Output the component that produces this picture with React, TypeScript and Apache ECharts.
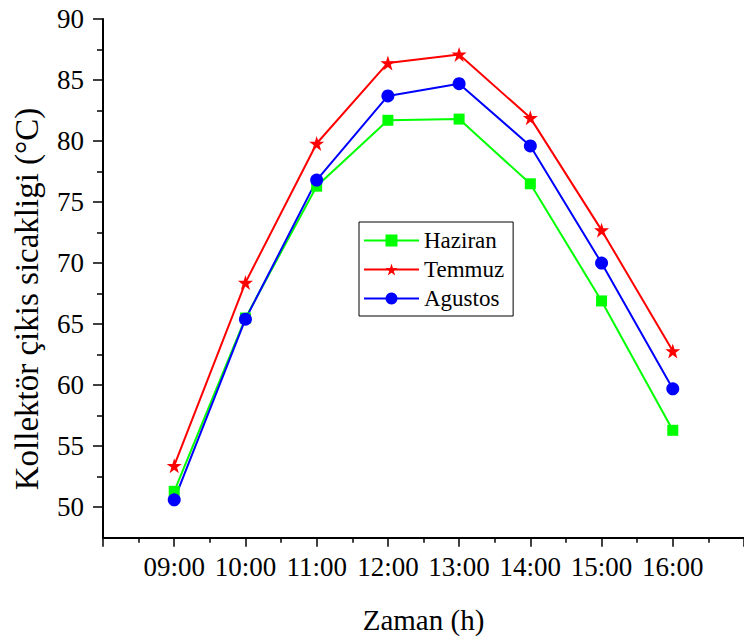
import React, { useEffect, useRef } from 'react';
import * as echarts from 'echarts';

const hours = [9, 10, 11, 12, 13, 14, 15, 16];
const haziran = [51.3, 65.5, 76.3, 81.7, 81.8, 76.5, 66.9, 56.3];
const temmuz = [53.4, 68.4, 79.8, 86.4, 87.1, 81.9, 72.7, 62.8];
const agustos = [50.6, 65.4, 76.8, 83.7, 84.7, 79.6, 70.0, 59.7];

const yMajorTicks = [50, 55, 60, 65, 70, 75, 80, 85, 90];
const yMinorTicks = [52.5, 57.5, 62.5, 67.5, 72.5, 77.5, 82.5, 87.5];
const xMajorTicks = [8, 9, 10, 11, 12, 13, 14, 15, 16, 17];
const xMinorTicks = [8.5, 9.5, 10.5, 11.5, 12.5, 13.5, 14.5, 15.5, 16.5];

const FONT = 'Liberation Serif';
const STAR =
  'path://M50,0L61.23,34.55L97.55,34.55L68.17,55.9L79.39,90.45L50,69.1L20.61,90.45L31.83,55.9L2.45,34.55L38.77,34.55Z';

const pair = (vals: number[]) => hours.map((h, i) => [h, vals[i]]);

export default function App() {
  const ref = useRef<HTMLDivElement>(null);
  useEffect(() => {
    if (!ref.current) return;
    const chart = echarts.init(ref.current, null, { renderer: 'svg' });
    const axisLineStyle = { color: '#000', width: 2 };
    chart.setOption({
      animation: false,
      backgroundColor: '#fff',
      textStyle: { fontFamily: FONT, color: '#000' },
      grid: { left: 103, top: 19, right: -3.5, bottom: 103.3, containLabel: false },
      xAxis: [
        {
          type: 'value',
          min: 8,
          max: 17,
          position: 'bottom',
          splitLine: { show: false },
          axisLine: { show: true, lineStyle: axisLineStyle },
          axisTick: { show: true, customValues: xMajorTicks, length: 9, lineStyle: { color: '#000', width: 1.5 } },
          axisLabel: {
            show: true,
            customValues: hours,
            margin: 16,
            fontSize: 27,
            fontFamily: FONT,
            color: '#000',
            formatter: (v: number) => String(v).padStart(2, '0') + ':00',
          },
          name: 'Zaman (h)',
          nameLocation: 'middle',
          nameGap: 68,
          nameTextStyle: { fontSize: 29, fontFamily: FONT, color: '#000' },
        },
        {
          type: 'value',
          min: 8,
          max: 17,
          position: 'bottom',
          splitLine: { show: false },
          axisLine: { show: false },
          axisTick: { show: true, customValues: xMinorTicks, length: 5, lineStyle: { color: '#000', width: 1.5 } },
          axisLabel: { show: false },
        },
      ],
      yAxis: [
        {
          type: 'value',
          min: 47.5,
          max: 90,
          position: 'left',
          splitLine: { show: false },
          axisLine: { show: true, lineStyle: axisLineStyle },
          axisTick: { show: true, customValues: yMajorTicks, length: 10, lineStyle: { color: '#000', width: 1.5 } },
          axisLabel: {
            show: true,
            customValues: yMajorTicks,
            margin: 19,
            fontSize: 27,
            fontFamily: FONT,
            color: '#000',
          },
        },
        {
          type: 'value',
          min: 47.5,
          max: 90,
          position: 'left',
          splitLine: { show: false },
          axisLine: { show: false },
          axisTick: { show: true, customValues: yMinorTicks, length: 6, lineStyle: { color: '#000', width: 1.5 } },
          axisLabel: { show: false },
        },
      ],
      legend: {
        orient: 'vertical',
        left: 359,
        top: 222,
        padding: [7, 9, 6, 4],
        itemGap: 6,
        itemWidth: 55,
        itemHeight: 15,
        borderColor: '#000',
        borderWidth: 1,
        borderRadius: 0,
        backgroundColor: '#fff',
        textStyle: { fontSize: 23, fontFamily: FONT, color: '#000' },
        data: ['Haziran', 'Temmuz', 'Agustos'],
      },
      graphic: [
        {
          type: 'text',
          x: 27,
          y: 299,
          rotation: Math.PI / 2,
          style: {
            text: 'Kollektör çikis sicakligi (°C)',
            font: `33px ${FONT}`,
            fill: '#000',
            align: 'center',
            verticalAlign: 'middle',
          },
        },
      ],
      series: [
        {
          name: 'Haziran',
          type: 'line',
          xAxisIndex: 0,
          yAxisIndex: 0,
          data: pair(haziran),
          symbol: 'rect',
          symbolSize: 11,
          color: '#00ff00',
          lineStyle: { width: 2, color: '#00ff00' },
          itemStyle: { color: '#00ff00' },
        },
        {
          name: 'Temmuz',
          type: 'line',
          xAxisIndex: 0,
          yAxisIndex: 0,
          data: pair(temmuz),
          symbol: STAR,
          symbolSize: 15,
          color: '#ff0000',
          lineStyle: { width: 2, color: '#ff0000' },
          itemStyle: { color: '#ff0000' },
        },
        {
          name: 'Agustos',
          type: 'line',
          xAxisIndex: 0,
          yAxisIndex: 0,
          data: pair(agustos),
          symbol: 'circle',
          symbolSize: 13,
          color: '#0000ff',
          lineStyle: { width: 2, color: '#0000ff' },
          itemStyle: { color: '#0000ff' },
        },
      ],
    });
    return () => chart.dispose();
  }, []);
  return (
    <div
      ref={ref}
      style={{ position: 'fixed', left: 0, top: 0, width: 744, height: 641, background: '#fff' }}
    />
  );
}
